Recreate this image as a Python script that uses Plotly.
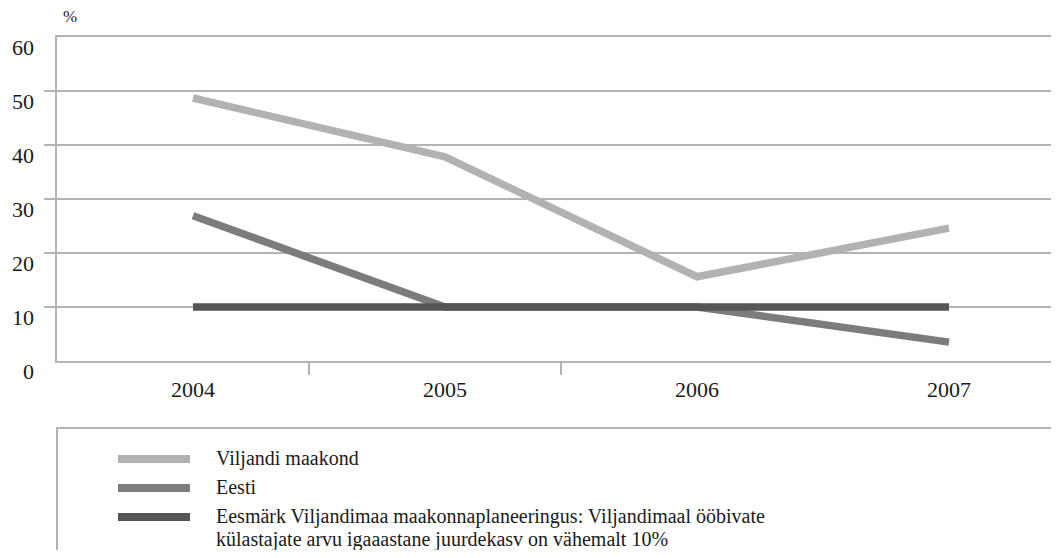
import plotly.graph_objects as go

years = ["2004", "2005", "2006", "2007"]
viljandi = [48.7, 37.8, 15.6, 24.6]
eesti = [26.9, 10.0, 10.0, 3.5]
eesmark = [10, 10, 10, 10]
series_names = [
    "Viljandi maakond",
    "Eesti",
    "Eesmärk Viljandimaa maakonnaplaneeringus: Viljandimaal ööbivate<br>külastajate arvu igaaastane juurdekasv on vähemalt 10%",
]
series_values = [viljandi, eesti, eesmark]
colors = ["#b2b2b2", "#7c7c7c", "#555555"]
y_ticks = [0, 10, 20, 30, 40, 50, 60]
unit_label = "%"

FONT = "'Liberation Serif', 'Times New Roman', serif"
GRID = "#b3b3b3"
OFF = 8  # page body margin
W, H = 1059 - 2 * OFF, 558 - 2 * OFF
ML, MT = 57 - OFF, 37 - OFF
BOTTOM = 361 - OFF  # y of x-axis within the figure
MB = H - BOTTOM
plot_w = W - ML
plot_h = H - MT - MB


def py(p):
    return (BOTTOM - (p - OFF)) / plot_h


def px(p):
    return (p - OFF - ML) / plot_w


xs = list(range(len(years)))

fig = go.Figure()
for name, vals, col in zip(series_names, series_values, colors):
    fig.add_trace(go.Scatter(x=xs, y=vals, mode="lines", name=name,
                             line=dict(color=col, width=7.5),
                             showlegend=False, hoverinfo="skip"))

# y tick labels (shifted below gridlines as in reference)
for v in y_ticks:
    fig.add_annotation(x=0, xref="paper", y=v, yref="y", text=str(v),
                       showarrow=False, xanchor="right", yanchor="middle",
                       xshift=-21, yshift=-10,
                       font=dict(family=FONT, size=22, color="#1a1a1a"))

fig.add_annotation(x=px(61), xref="paper", y=py(28), yref="paper",
                   text=unit_label, showarrow=False, xanchor="left", yanchor="bottom",
                   font=dict(family=FONT, size=17, color="#1a1a1a"))

# legend box
fig.add_shape(type="rect", xref="paper", yref="paper",
              x0=0, x1=1.05, y0=-0.8, y1=py(428),
              line=dict(color=GRID, width=2), fillcolor="rgba(0,0,0,0)")

rows = [459, 488, 517]
LINE_GAP = 23
for name, col, r in zip(series_names, colors, rows):
    fig.add_shape(type="line", xref="paper", yref="paper",
                  x0=px(118), x1=px(190), y0=py(r), y1=py(r),
                  line=dict(color=col, width=8))
    for i, part in enumerate(name.split("<br>")):
        fig.add_annotation(x=px(215), xref="paper", y=py(r + i * LINE_GAP - 1),
                           yref="paper", text=part, showarrow=False,
                           xanchor="left", yanchor="middle", align="left",
                           borderpad=0,
                           font=dict(family=FONT, size=20, color="#1a1a1a"))

x0px = 193 - OFF
spacing = 252
fig.update_layout(
    width=W, height=H,
    margin=dict(l=ML, r=0, t=MT, b=MB, pad=0),
    paper_bgcolor="white", plot_bgcolor="white",
    showlegend=False,
    xaxis=dict(
        range=[(ML - x0px) / spacing, (W - x0px) / spacing],
        tickvals=xs, ticktext=years, ticks="",
        tickfont=dict(family=FONT, size=22, color="#1a1a1a"),
        showgrid=False, zeroline=False,
        showline=True, linecolor=GRID, linewidth=2, mirror=True,
        minor=dict(tickvals=[0.46, 1.46], ticks="outside", ticklen=12,
                   tickcolor=GRID, tickwidth=2, showgrid=False),
        ticklabelstandoff=8,
    ),
    yaxis=dict(
        range=[0, 60],
        tickvals=[10, 20, 30, 40, 50], showticklabels=False,
        ticks="outside", ticklen=11, tickcolor=GRID, tickwidth=2,
        showgrid=True, gridcolor=GRID, gridwidth=2, zeroline=False,
        showline=True, linecolor=GRID, linewidth=2,
    ),
)

fig.write_html("out.html")
